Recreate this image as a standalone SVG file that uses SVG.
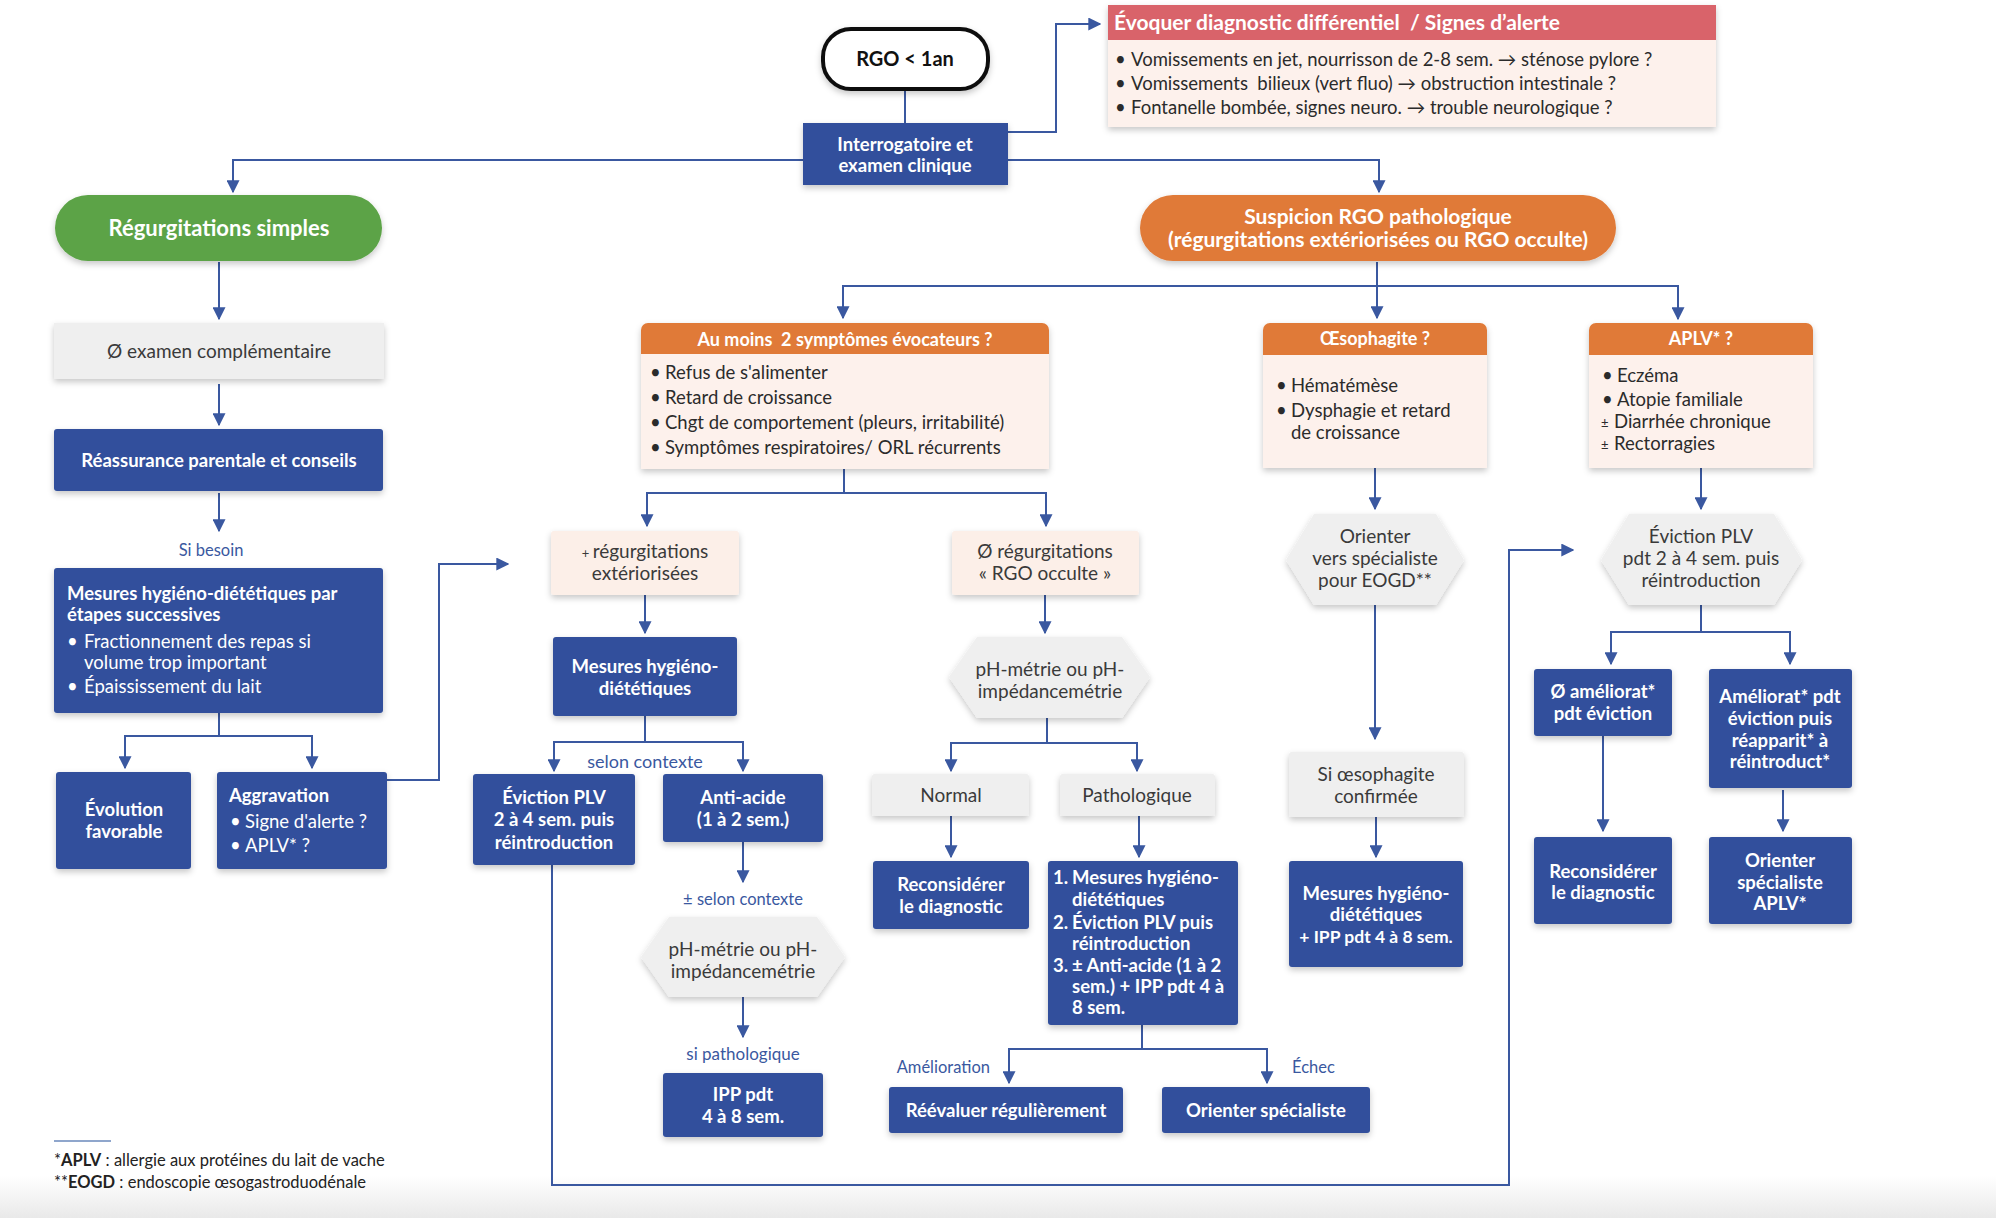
<svg xmlns="http://www.w3.org/2000/svg" width="1996" height="1218" viewBox="0 0 1996 1218">
<defs>
<filter id="sh" x="-10%" y="-10%" width="120%" height="130%">
<feDropShadow dx="0" dy="3" stdDeviation="3" flood-color="#000" flood-opacity="0.22"/>
</filter>
<marker id="ar" viewBox="0 0 10 10" refX="9" refY="5" markerWidth="13" markerHeight="13" markerUnits="userSpaceOnUse" orient="auto">
<path d="M0,0 L10,5 L0,10 z" fill="#3a58a0"/>
</marker>
<linearGradient id="bg" x1="0" y1="0" x2="0" y2="1">
<stop offset="0" stop-color="#ffffff"/>
<stop offset="1" stop-color="#e9e9e9"/>
</linearGradient>
<style>
text{font-family:Lato,"Open Sans","Liberation Sans",sans-serif}
.blue{fill:#31509c;filter:url(#sh)}
.gray{fill:#efefef;filter:url(#sh)}
.pale{fill:#fcefe8;filter:url(#sh)}
.pink{fill:#fdf1ec}
.orh{fill:#e07a38}
.wb{fill:#fff;font-weight:bold;font-size:18.5px}
.wn{fill:#fff;font-size:18.5px}
.dk{fill:#3a3a3a;font-size:19px}
.bd{fill:#2b2b2b;font-size:18.5px}
.lb{fill:#3a58a0;font-size:16.5px}
.hd{fill:#fff;font-weight:bold;font-size:18px}
.c{text-anchor:middle}
.con{fill:none;stroke:#3a58a0;stroke-width:2}
</style>
</defs>
<rect x="0" y="0" width="1996" height="1218" fill="#fff"/>
<rect x="0" y="1176" width="1996" height="42" fill="url(#bg)"/>

<g id="connectors">
<path class="con" d="M905,90 V123"/>
<path class="con" d="M1008,132 H1056 V24 H1100" marker-end="url(#ar)"/>
<path class="con" d="M905,160 H233 V192" marker-end="url(#ar)"/>
<path class="con" d="M905,160 H1379 V192" marker-end="url(#ar)"/>
<path class="con" d="M219,262 V319" marker-end="url(#ar)"/>
<path class="con" d="M219,384 V425" marker-end="url(#ar)"/>
<path class="con" d="M219,493 V531" marker-end="url(#ar)"/>
<path class="con" d="M219,713 V736 H125 V768" marker-end="url(#ar)"/>
<path class="con" d="M219,736 H312 V768" marker-end="url(#ar)"/>
<path class="con" d="M387,780 H439 V564 H508" marker-end="url(#ar)"/>
<path class="con" d="M1377,262 V286 H843 V318" marker-end="url(#ar)"/>
<path class="con" d="M1377,286 V318" marker-end="url(#ar)"/>
<path class="con" d="M1377,286 H1678 V319" marker-end="url(#ar)"/>
<path class="con" d="M844,469 V493 H647 V526" marker-end="url(#ar)"/>
<path class="con" d="M844,493 H1046 V526" marker-end="url(#ar)"/>
<path class="con" d="M645,595 V633" marker-end="url(#ar)"/>
<path class="con" d="M645,716 V742 H554 V771" marker-end="url(#ar)"/>
<path class="con" d="M645,742 H743 V771" marker-end="url(#ar)"/>
<path class="con" d="M743,842 V882" marker-end="url(#ar)"/>
<path class="con" d="M743,997 V1037" marker-end="url(#ar)"/>
<path class="con" d="M1045,595 V633" marker-end="url(#ar)"/>
<path class="con" d="M1047,718 V743 H951 V771" marker-end="url(#ar)"/>
<path class="con" d="M1047,743 H1137 V771" marker-end="url(#ar)"/>
<path class="con" d="M951,816 V857" marker-end="url(#ar)"/>
<path class="con" d="M1139,816 V857" marker-end="url(#ar)"/>
<path class="con" d="M1142,1025 V1049 H1009 V1083" marker-end="url(#ar)"/>
<path class="con" d="M1142,1049 H1267 V1083" marker-end="url(#ar)"/>
<path class="con" d="M552,865 V1185 H1509 V550 H1573" marker-end="url(#ar)"/>
<path class="con" d="M1375,468 V509" marker-end="url(#ar)"/>
<path class="con" d="M1375,605 V739" marker-end="url(#ar)"/>
<path class="con" d="M1376,817 V857" marker-end="url(#ar)"/>
<path class="con" d="M1701,468 V509" marker-end="url(#ar)"/>
<path class="con" d="M1701,605 V632 H1611 V664" marker-end="url(#ar)"/>
<path class="con" d="M1701,632 H1790 V664" marker-end="url(#ar)"/>
<path class="con" d="M1603,736 V831" marker-end="url(#ar)"/>
<path class="con" d="M1783,790 V831" marker-end="url(#ar)"/>
</g>

<g id="rgo">
<rect x="823" y="29" width="165" height="60" rx="28" fill="#fff" stroke="#111" stroke-width="4" filter="url(#sh)"/>
<text x="905" y="66" class="c" style="font-weight:bold;font-size:20px;fill:#111">RGO &lt; 1an</text>
</g>

<g id="interrogatoire">
<rect class="blue" x="803" y="123" width="205" height="62"/>
<text x="905" y="151" class="c wb">Interrogatoire et</text>
<text x="905" y="172" class="c wb">examen clinique</text>
</g>

<g id="evoquer">
<g filter="url(#sh)">
<rect x="1108" y="5" width="608" height="35" fill="#d9636a"/>
<rect x="1108" y="40" width="608" height="87" class="pink"/>
</g>
<text x="1114" y="30" style="fill:#fff;font-weight:bold;font-size:21px" xml:space="preserve">Évoquer diagnostic différentiel  / Signes d’alerte</text>
<text y="66" class="bd"><tspan x="1115">•</tspan><tspan x="1131">Vomissements en jet, nourrisson de 2-8 sem. → sténose pylore ?</tspan></text>
<text y="90" class="bd" xml:space="preserve"><tspan x="1115">•</tspan><tspan x="1131">Vomissements  bilieux (vert fluo) → obstruction intestinale ?</tspan></text>
<text y="114" class="bd"><tspan x="1115">•</tspan><tspan x="1131">Fontanelle bombée, signes neuro. → trouble neurologique ?</tspan></text>
</g>

<g id="regurg-simples">
<rect x="55" y="195" width="327" height="66" rx="33" fill="#5ba346" filter="url(#sh)"/>
<text x="219" y="236" class="c" style="fill:#fff;font-weight:bold;font-size:22px">Régurgitations simples</text>
</g>

<g id="suspicion">
<rect x="1140" y="195" width="476" height="66" rx="33" fill="#e07a38" filter="url(#sh)"/>
<text x="1378" y="224" class="c" style="fill:#fff;font-weight:bold;font-size:21px">Suspicion RGO pathologique</text>
<text x="1378" y="247" class="c" style="fill:#fff;font-weight:bold;font-size:21px">(régurgitations extériorisées ou RGO occulte)</text>
</g>

<g id="examen">
<rect class="gray" x="54" y="323" width="330" height="56"/>
<text x="219" y="358" class="c dk">Ø examen complémentaire</text>
</g>

<g id="reassurance">
<rect class="blue" x="54" y="429" width="329" height="62" rx="3"/>
<text x="219" y="467" class="c wb">Réassurance parentale et conseils</text>
</g>

<text id="si-besoin" x="211" y="556" class="c lb">Si besoin</text>

<g id="mesures-etapes">
<rect class="blue" x="54" y="568" width="329" height="145" rx="3"/>
<text x="67" y="600" class="wb">Mesures hygiéno-diététiques par</text>
<text x="67" y="621" class="wb">étapes successives</text>
<text y="648" class="wn"><tspan x="67">•</tspan><tspan x="84">Fractionnement des repas si</tspan></text>
<text x="84" y="669" class="wn">volume trop important</text>
<text y="693" class="wn"><tspan x="67">•</tspan><tspan x="84">Épaississement du lait</tspan></text>
</g>

<g id="evolution">
<rect class="blue" x="56" y="772" width="135" height="97" rx="3"/>
<text x="124" y="816" class="c wb">Évolution</text>
<text x="124" y="838" class="c wb">favorable</text>
</g>

<g id="aggravation">
<rect class="blue" x="217" y="772" width="170" height="97" rx="3"/>
<text x="229" y="802" class="wb">Aggravation</text>
<text y="828" class="wn"><tspan x="230">•</tspan><tspan x="245">Signe d'alerte ?</tspan></text>
<text y="852" class="wn"><tspan x="230">•</tspan><tspan x="245">APLV* ?</tspan></text>
</g>

<g id="au-moins">
<g filter="url(#sh)">
<path d="M641,330 a7,7 0 0 1 7,-7 h394 a7,7 0 0 1 7,7 v24 h-408 z" class="orh"/>
<rect x="641" y="354" width="408" height="115" class="pink"/>
</g>
<text x="845" y="346" class="c hd" xml:space="preserve">Au moins  2 symptômes évocateurs ?</text>
<text y="379" class="bd"><tspan x="650">•</tspan><tspan x="665">Refus de s'alimenter</tspan></text>
<text y="404" class="bd"><tspan x="650">•</tspan><tspan x="665">Retard de croissance</tspan></text>
<text y="429" class="bd"><tspan x="650">•</tspan><tspan x="665">Chgt de comportement (pleurs, irritabilité)</tspan></text>
<text y="454" class="bd"><tspan x="650">•</tspan><tspan x="665">Symptômes respiratoires/ ORL récurrents</tspan></text>
</g>

<g id="oesophagite">
<g filter="url(#sh)">
<path d="M1263,330 a7,7 0 0 1 7,-7 h210 a7,7 0 0 1 7,7 v25 h-224 z" class="orh"/>
<rect x="1263" y="355" width="224" height="113" class="pink"/>
</g>
<text x="1375" y="345" class="c hd">Œsophagite ?</text>
<text y="392" class="bd"><tspan x="1276">•</tspan><tspan x="1291">Hématémèse</tspan></text>
<text y="417" class="bd"><tspan x="1276">•</tspan><tspan x="1291">Dysphagie et retard</tspan></text>
<text x="1291" y="439" class="bd">de croissance</text>
</g>

<g id="aplv">
<g filter="url(#sh)">
<path d="M1589,330 a7,7 0 0 1 7,-7 h210 a7,7 0 0 1 7,7 v25 h-224 z" class="orh"/>
<rect x="1589" y="355" width="224" height="113" class="pink"/>
</g>
<text x="1701" y="345" class="c hd">APLV* ?</text>
<text y="382" class="bd"><tspan x="1602">•</tspan><tspan x="1617">Eczéma</tspan></text>
<text y="406" class="bd"><tspan x="1602">•</tspan><tspan x="1617">Atopie familiale</tspan></text>
<text y="428" class="bd"><tspan x="1601" style="font-size:13px">±</tspan><tspan x="1614">Diarrhée chronique</tspan></text>
<text y="450" class="bd"><tspan x="1601" style="font-size:13px">±</tspan><tspan x="1614">Rectorragies</tspan></text>
</g>

<g id="regurg-ext">
<rect class="pale" x="551" y="531" width="188" height="64" rx="3"/>
<text x="645" y="558" class="c dk"><tspan style="font-size:13px">+ </tspan>régurgitations</text>
<text x="645" y="580" class="c dk">extériorisées</text>
</g>

<g id="regurg-occulte">
<rect class="pale" x="952" y="531" width="187" height="64" rx="3"/>
<text x="1045" y="558" class="c dk">Ø régurgitations</text>
<text x="1045" y="580" class="c dk">« RGO occulte »</text>
</g>

<g id="mesures-mid">
<rect class="blue" x="553" y="637" width="184" height="79" rx="3"/>
<text x="645" y="673" class="c wb">Mesures hygiéno-</text>
<text x="645" y="695" class="c wb">diététiques</text>
</g>

<text id="selon-contexte" x="645" y="768" class="c lb" style="font-size:18px">selon contexte</text>

<g id="ph-mid">
<polygon points="949,677 977,637 1122,637 1150,677 1122,718 977,718" class="gray"/>
<text x="1050" y="676" class="c dk">pH-métrie ou pH-</text>
<text x="1050" y="698" class="c dk">impédancemétrie</text>
</g>

<g id="eviction-plv">
<rect class="blue" x="473" y="774" width="162" height="91" rx="3"/>
<text x="554" y="804" class="c wb">Éviction PLV</text>
<text x="554" y="826" class="c wb">2 à 4 sem. puis</text>
<text x="554" y="849" class="c wb">réintroduction</text>
</g>

<g id="anti-acide">
<rect class="blue" x="663" y="774" width="160" height="68" rx="3"/>
<text x="743" y="804" class="c wb">Anti-acide</text>
<text x="743" y="826" class="c wb">(1 à 2 sem.)</text>
</g>

<g id="normal">
<rect class="gray" x="872" y="774" width="157" height="42" rx="3"/>
<text x="951" y="802" class="c dk">Normal</text>
</g>

<g id="pathologique">
<rect class="gray" x="1060" y="774" width="155" height="42" rx="3"/>
<text x="1137" y="802" class="c dk">Pathologique</text>
</g>

<text id="pm-selon" x="743" y="905" class="c lb">± selon contexte</text>

<g id="ph-left">
<polygon points="641,957 669,917 817,917 845,957 817,997 669,997" class="gray"/>
<text x="743" y="956" class="c dk">pH-métrie ou pH-</text>
<text x="743" y="978" class="c dk">impédancemétrie</text>
</g>

<text id="si-patho" x="743" y="1060" class="c lb" style="font-size:17px">si pathologique</text>

<g id="ipp">
<rect class="blue" x="663" y="1073" width="160" height="64" rx="3"/>
<text x="743" y="1101" class="c wb">IPP pdt</text>
<text x="743" y="1123" class="c wb">4 à 8 sem.</text>
</g>

<g id="reconsiderer-mid">
<rect class="blue" x="873" y="861" width="156" height="68" rx="3"/>
<text x="951" y="891" class="c wb">Reconsidérer</text>
<text x="951" y="913" class="c wb">le diagnostic</text>
</g>

<g id="numbered">
<rect class="blue" x="1048" y="861" width="190" height="164" rx="3"/>
<text x="1053" y="884" class="wb">1.</text><text x="1072" y="884" class="wb">Mesures hygiéno-</text>
<text x="1072" y="906" class="wb">diététiques</text>
<text x="1053" y="929" class="wb">2.</text><text x="1072" y="929" class="wb">Éviction PLV puis</text>
<text x="1072" y="950" class="wb">réintroduction</text>
<text x="1053" y="972" class="wb">3.</text><text x="1072" y="972" class="wb">± Anti-acide (1 à 2</text>
<text x="1072" y="993" class="wb">sem.) + IPP pdt 4 à</text>
<text x="1072" y="1014" class="wb">8 sem.</text>
</g>

<text id="amelioration" x="990" y="1073" style="text-anchor:end" class="lb">Amélioration</text>
<text id="echec" x="1292" y="1073" class="lb">Échec</text>

<g id="reevaluer">
<rect class="blue" x="889" y="1087" width="234" height="46" rx="3"/>
<text x="1006" y="1117" class="c wb">Réévaluer régulièrement</text>
</g>

<g id="orienter-spec">
<rect class="blue" x="1162" y="1087" width="208" height="46" rx="3"/>
<text x="1266" y="1117" class="c wb">Orienter spécialiste</text>
</g>

<g id="orienter-eogd">
<polygon points="1286,560 1314,514 1436,514 1464,560 1436,605 1314,605" class="gray"/>
<text x="1375" y="543" class="c dk">Orienter</text>
<text x="1375" y="565" class="c dk">vers spécialiste</text>
<text x="1375" y="587" class="c dk">pour EOGD**</text>
</g>

<g id="si-oeso">
<rect class="gray" x="1289" y="752" width="175" height="65" rx="3"/>
<text x="1376" y="781" class="c dk">Si œsophagite</text>
<text x="1376" y="803" class="c dk">confirmée</text>
</g>

<g id="mesures-ipp">
<rect class="blue" x="1289" y="861" width="174" height="106" rx="3"/>
<text x="1376" y="900" class="c wb">Mesures hygiéno-</text>
<text x="1376" y="921" class="c wb">diététiques</text>
<text x="1376" y="943" class="c wb" style="font-size:17.5px">+ IPP pdt 4 à 8 sem.</text>
</g>

<g id="eviction-aplv">
<polygon points="1601,560 1629,514 1774,514 1802,560 1774,605 1629,605" class="gray"/>
<text x="1701" y="543" class="c dk">Éviction PLV</text>
<text x="1701" y="565" class="c dk">pdt 2 à 4 sem. puis</text>
<text x="1701" y="587" class="c dk">réintroduction</text>
</g>

<g id="no-amelio">
<rect class="blue" x="1534" y="669" width="138" height="67" rx="3"/>
<text x="1603" y="698" class="c wb">Ø améliorat*</text>
<text x="1603" y="720" class="c wb">pdt éviction</text>
</g>

<g id="amelio">
<rect class="blue" x="1709" y="669" width="143" height="119" rx="3"/>
<text x="1780" y="703" class="c wb">Améliorat* pdt</text>
<text x="1780" y="725" class="c wb">éviction puis</text>
<text x="1780" y="747" class="c wb">réapparit* à</text>
<text x="1780" y="768" class="c wb">réintroduct*</text>
</g>

<g id="reconsiderer-right">
<rect class="blue" x="1534" y="837" width="138" height="87" rx="3"/>
<text x="1603" y="878" class="c wb">Reconsidérer</text>
<text x="1603" y="899" class="c wb">le diagnostic</text>
</g>

<g id="orienter-aplv">
<rect class="blue" x="1709" y="837" width="143" height="87" rx="3"/>
<text x="1780" y="867" class="c wb">Orienter</text>
<text x="1780" y="889" class="c wb">spécialiste</text>
<text x="1780" y="910" class="c wb">APLV*</text>
</g>

<g id="footer">
<line x1="54" y1="1141" x2="111" y2="1141" stroke="#8fa6cc" stroke-width="2"/>
<text x="54" y="1166" style="font-size:16.5px;fill:#222">*<tspan font-weight="bold">APLV</tspan> : allergie aux protéines du lait de vache</text>
<text x="54" y="1188" style="font-size:16.5px;fill:#222">**<tspan font-weight="bold">EOGD</tspan> : endoscopie œsogastroduodénale</text>
</g>
</svg>
